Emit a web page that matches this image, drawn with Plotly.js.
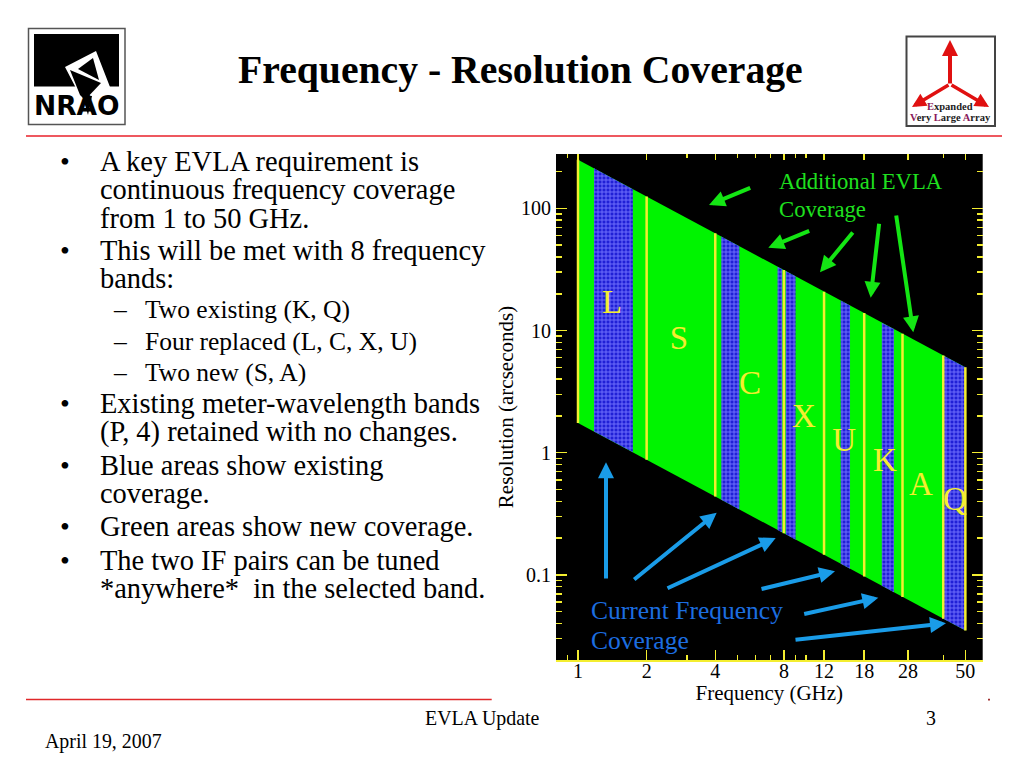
<!DOCTYPE html>
<html>
<head>
<meta charset="utf-8">
<script src="https://cdn.plot.ly/plotly-3.0.1.min.js"></script>
<style>html,body{margin:0;padding:0;background:#fff}#chart{width:1024px;height:768px}</style>
</head>
<body>
<div id="chart"></div>
<script>
// ---- data ----
var coverageFreq = [1, 50, 50, 1];
var coverageRes  = [250, 5, 0.035, 1.75];

var existingFreqLow  = [1.175, 4.25, 7.5, 8.15, 14.2, 21.5, 40];
var existingFreqHigh = [1.74, 5.1, 7.87, 9.0, 15.6, 24.3, 50];
var existingTopLow   = [212.8, 58.8, 33.3, 30.7, 17.6, 11.6, 6.25];
var existingTopHigh  = [143.7, 49.0, 31.8, 27.8, 16.0, 10.3, 5.0];
var existingBotLow   = [1.49, 0.412, 0.233, 0.215, 0.123, 0.0814, 0.04375];
var existingBotHigh  = [1.006, 0.343, 0.222, 0.194, 0.112, 0.072, 0.035];

var edgeFreq = [1, 2, 4, 8, 12, 18, 26.5, 40, 50];
var edgeTop  = [250, 125, 62.5, 31.25, 20.8, 13.9, 9.43, 6.25, 5.0];
var edgeBot  = [1.75, 0.875, 0.4375, 0.219, 0.146, 0.097, 0.066, 0.04375, 0.035];

var bandNames = ['L', 'S', 'C', 'X', 'U', 'K', 'A', 'Q'];
var bandFreq  = [1.41, 2.77, 5.68, 9.8, 14.7, 22.2, 31.9, 45];
var bandRes   = [16.4, 8.2, 3.55, 1.9, 1.21, 0.835, 0.53, 0.4];

var xTicks = [1, 2, 4, 8, 12, 18, 28, 50, 59.5];
var xTickLabels = ['1', '2', '4', '8', '12', '18', '28', '50', ''];
var xMinor = [0.9, 3, 5, 6, 7, 9, 10, 40];
var yTicks = [0.1, 1, 10, 100];
var yTickLabels = ['0.1', '1', '10', '100'];
var yMinor = [0.03, 0.04, 0.05, 0.06, 0.07, 0.08, 0.09, 0.2, 0.3, 0.4, 0.5, 0.6, 0.7, 0.8, 0.9,
              2, 3, 4, 5, 6, 7, 8, 9, 20, 30, 40, 50, 60, 70, 80, 90, 200];

// ---- slide text ----
var bulletLines = ['A key EVLA requirement is', 'continuous frequency coverage', 'from 1 to 50 GHz.',
  'This will be met with 8 frequency', 'bands:',
  'Existing meter-wavelength bands', '(P, 4) retained with no changes.',
  'Blue areas show existing', 'coverage.', 'Green areas show new coverage.',
  'The two IF pairs can be tuned', '*anywhere*  in the selected band.'];
var bulletY = [161.5, 189.5, 218, 250.5, 278.5, 403.5, 432, 465.5, 493.5, 526.5, 560.5, 588.5];
var bulletMarkY = [161.5, 250.5, 403.5, 465.5, 526.5, 560.5];
var subLines = ['Two existing (K, Q)', 'Four replaced (L, C, X, U)', 'Two new (S, A)'];
var subY = [310, 341, 372];

// ---- helpers: slide pixels to paper fractions ----
function px(x) { return x / 1024; }
function py(y) { return 1 - y / 768; }
var SERIF = '"Liberation Serif", "Times New Roman", serif';
var YELLOW = '#f4ee30';
var BLUE_ARROW = '#1a9ce8';
var GREEN_ARROW = '#14e614';

function label(text, x, y, size, color, anchor, extra) {
  var a = {text: text, xref: 'paper', yref: 'paper', x: px(x), y: py(y), showarrow: false,
    xanchor: anchor || 'left', yanchor: 'middle', borderpad: 0, borderwidth: 0,
    font: {family: SERIF, size: size, color: color || '#000'}};
  for (var k in (extra || {})) a[k] = extra[k];
  return a;
}
function arrow(x0, y0, x1, y1, color, width, size) {
  return {xref: 'paper', yref: 'paper', x: px(x1), y: py(y1), ax: x0 - x1, ay: y0 - y1,
    axref: 'pixel', ayref: 'pixel', text: '', showarrow: true, arrowhead: 2, arrowsize: size || 0.8,
    arrowwidth: width, arrowcolor: color, standoff: 0, startstandoff: 0};
}
function poly(points, fill) {
  var d = points.map(function (p, i) { return (i ? 'L' : 'M') + px(p[0]) + ',' + py(p[1]); }).join(' ') + ' Z';
  return {type: 'path', xref: 'paper', yref: 'paper', path: d, fillcolor: fill, line: {width: 0}, layer: 'below'};
}
function rect(x0, y0, x1, y1, fill, lineColor, lineWidth) {
  return {type: 'rect', xref: 'paper', yref: 'paper', x0: px(x0), x1: px(x1), y0: py(y0), y1: py(y1),
    fillcolor: fill, line: {color: lineColor || fill, width: lineWidth || 0}, layer: 'below'};
}
function hline(x0, x1, y, color, w) {
  return {type: 'line', xref: 'paper', yref: 'paper', x0: px(x0), x1: px(x1), y0: py(y), y1: py(y),
    line: {color: color, width: w}, layer: 'below'};
}

// ---- traces ----
var traces = [];
traces.push({x: coverageFreq, y: coverageRes, mode: 'lines', fill: 'toself', fillcolor: '#00f400',
  line: {width: 0}, hoverinfo: 'skip', showlegend: false});
existingFreqLow.forEach(function (f, i) {
  traces.push({
    x: [f, existingFreqHigh[i], existingFreqHigh[i], f, f],
    y: [existingTopLow[i], existingTopHigh[i], existingBotHigh[i], existingBotLow[i], existingTopLow[i]],
    mode: 'lines', fill: 'toself', fillcolor: '#2222d8',
    fillpattern: {shape: '+', fgcolor: '#7474ff', bgcolor: '#2020d6', size: 4, solidity: 0.4},
    line: {width: 0}, hoverinfo: 'skip', showlegend: false});
});
var edgeX = [], edgeY = [];
edgeFreq.forEach(function (f, i) {
  edgeX.push(f, f, null);
  edgeY.push(edgeTop[i], edgeBot[i], null);
});
traces.push({x: edgeX, y: edgeY, mode: 'lines', line: {color: YELLOW, width: 2.5}, hoverinfo: 'skip', showlegend: false, connectgaps: false});
traces.push({x: bandFreq, y: bandRes, text: bandNames, mode: 'text', textposition: 'middle center',
  textfont: {family: SERIF, size: 33, color: YELLOW}, hoverinfo: 'skip', showlegend: false});
traces.push({x: [1], y: [1], xaxis: 'x2', mode: 'markers', marker: {opacity: 0, size: 1}, hoverinfo: 'skip', showlegend: false});

// ---- annotations ----
var ann = [];
ann.push(label('<b>Frequency - Resolution Coverage</b>', 520.5, 70, 39.7, '#000', 'center'));
bulletLines.forEach(function (t, i) { ann.push(label(t, 100, bulletY[i], 28.45)); });
bulletMarkY.forEach(function (y) { ann.push(label('•', 60, y, 28)); });
subLines.forEach(function (t, i) {
  ann.push(label(t, 145, subY[i], 25.5));
  ann.push(label('–', 113, subY[i], 25.5));
});
ann.push(label('EVLA Update', 482, 718, 19.9, '#000', 'center'));
ann.push(label('3', 931, 718, 19.9, '#000', 'center'));
ann.push(label('April 19, 2007', 45, 741, 19.9));

ann.push(label('Additional EVLA', 779, 182, 22.7, '#1fe01f'));
ann.push(label('Coverage', 779, 209, 22.7, '#1fe01f'));
ann.push(label('Current Frequency', 591, 610.5, 25.5, '#1c6ee0'));
ann.push(label('Coverage', 591, 640.5, 25.5, '#1c6ee0'));

[[751.7, 187.3, 709, 205], [810.7, 230.3, 768.3, 247.7], [854, 231, 820, 272.3],
 [879.3, 222.3, 870.7, 297.7], [896, 214, 913.3, 332.3]].forEach(function (a) {
  ann.push(arrow(a[0], a[1], a[2], a[3], GREEN_ARROW, 4));
});
[[606, 580, 606, 462.3], [632.7, 580.7, 716.7, 512.7], [666, 589, 775.7, 538],
 [760, 589.3, 835, 571.3], [802.7, 614.3, 878.3, 597.7], [794, 640, 946, 623.3]].forEach(function (a) {
  ann.push(arrow(a[0], a[1], a[2], a[3], BLUE_ARROW, 4));
});

// NRAO logo wordmark
ann.push(label('<b>NRAO</b>', 76.5, 105, 27, '#000', 'center', {font: {family: '"DejaVu Sans", sans-serif', size: 26.5, color: '#000'}}));

// EVLA logo
ann.push(arrow(950, 85, 950, 40, '#e01010', 4));
ann.push(arrow(950, 84, 912, 107, '#e01010', 3.5));
ann.push(arrow(950, 84, 989, 107, '#e01010', 3.5));
ann.push(label('<b><span style="color:#8a1a5a">E</span>xpanded</b>', 950, 106, 10.5, '#222', 'center'));
ann.push(label('<b><span style="color:#8a1a5a">V</span>ery <span style="color:#8a1a5a">L</span>arge <span style="color:#8a1a5a">A</span>rray</b>', 950, 117, 10.5, '#222', 'center'));

// ---- shapes ----
var shapes = [
  hline(26, 1002, 136, '#e8202a', 1.6),
  hline(26, 491.7, 699.5, '#e0282a', 1.6),
  rect(988, 698.8, 990, 700.6, '#a03030'),
  rect(28.5, 28.5, 125, 124.5, '#fff', '#555', 1.5),
  rect(34, 34, 119, 86.5, '#000'),
  poly([[65, 67], [96, 51], [110, 87], [110, 96], [92, 118], [78, 118], [78, 92]], '#fff'),
  poly([[78, 69], [93, 58], [99, 80]], '#000'),
  poly([[70, 70], [101, 83], [85, 100], [80, 95]], '#000'),
  poly([[82, 95], [92, 96], [88, 115]], '#000'),
  rect(906.5, 36.5, 995, 126, '#fff', '#444', 2)
];

var xRange = [-0.0965, 1.775];
var axisMinorX = {tickmode: 'array', tickvals: xMinor, ticks: 'inside', ticklen: 5, tickcolor: YELLOW, tickwidth: 1.5, showgrid: false};

var layout = {
  width: 1024, height: 768,
  margin: {l: 0, r: 0, t: 0, b: 0, pad: 0},
  paper_bgcolor: '#fff', plot_bgcolor: '#000',
  showlegend: false,
  xaxis: {
    type: 'log', range: xRange, domain: [px(556), px(982.7)], anchor: 'y',
    tickmode: 'array', tickvals: xTicks, ticktext: xTickLabels,
    ticks: 'inside', ticklen: 10, tickcolor: YELLOW, tickwidth: 1.5, ticklabelstandoff: -8,
    showline: true, linecolor: YELLOW, linewidth: 1.5,
    showgrid: false, zeroline: false, minor: axisMinorX,
    tickfont: {family: SERIF, size: 20, color: '#000'},
    title: {text: 'Frequency (GHz)', font: {family: SERIF, size: 21, color: '#000'}, standoff: 0}
  },
  xaxis2: {
    type: 'log', range: xRange, overlaying: 'x', side: 'top', anchor: 'y',
    tickmode: 'array', tickvals: xTicks, ticktext: xTicks.map(function () { return ''; }),
    ticks: 'inside', ticklen: 6, tickcolor: YELLOW, tickwidth: 1.5,
    showgrid: false, zeroline: false, showline: false,
    minor: {tickmode: 'array', tickvals: xMinor, ticks: 'inside', ticklen: 4, tickcolor: YELLOW, tickwidth: 1.5, showgrid: false}
  },
  yaxis: {
    type: 'log', range: [-1.697, 2.445], domain: [py(660), py(154)], anchor: 'x',
    tickmode: 'array', tickvals: yTicks, ticktext: yTickLabels,
    ticks: 'inside', ticklen: 11, tickcolor: YELLOW, tickwidth: 1.5, mirror: 'ticks', ticklabelstandoff: 4,
    showgrid: false, zeroline: false, showline: false,
    minor: {tickmode: 'array', tickvals: yMinor, ticks: 'inside', ticklen: 6, tickcolor: YELLOW, tickwidth: 1.5, showgrid: false},
    tickfont: {family: SERIF, size: 20, color: '#000'},
    title: {text: 'Resolution (arcseconds)', font: {family: SERIF, size: 21, color: '#000'}, standoff: 1}
  },
  annotations: ann,
  shapes: shapes
};

Plotly.newPlot('chart', traces, layout, {staticPlot: true, displayModeBar: false});
</script>
</body>
</html>
